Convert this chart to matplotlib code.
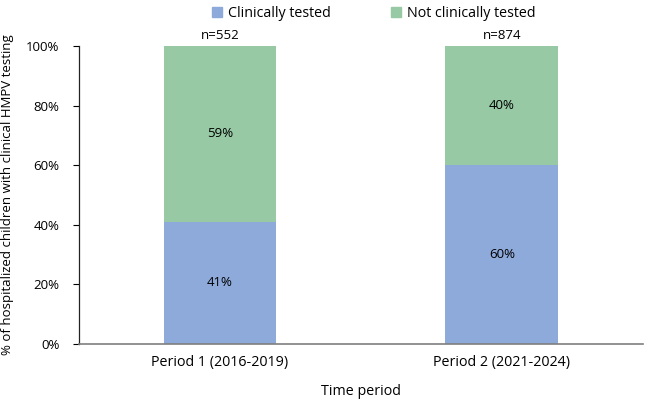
import numpy as np
import matplotlib.pyplot as plt
from matplotlib.patches import Patch

plt.rcParams['font.family'] = ['Open Sans', 'DejaVu Sans']

periods = ["Period 1 (2016-2019)", "Period 2 (2021-2024)"]
tested = [41, 60]
not_tested = [59, 40]
n_labels = ["n=552", "n=874"]
series_names = ["Clinically tested", "Not clinically tested"]

blue = "#8eaadb"
green = "#97c9a4"

fig = plt.figure(figsize=(6.5, 4.07), dpi=100)
ax = fig.add_axes([0.1215, 0.155, 0.8675, 0.732])

x = np.arange(len(periods))
w = 0.4
ax.bar(x, tested, w, color=blue)
ax.bar(x, not_tested, w, bottom=tested, color=green)

for i in range(len(periods)):
    ax.text(x[i], tested[i] / 2, f"{tested[i]}%", ha="center", va="center", fontsize=9.5)
    ax.text(x[i], tested[i] + not_tested[i] / 2, f"{not_tested[i]}%", ha="center", va="center", fontsize=9.5)
    ax.text(x[i], 101.5, n_labels[i], ha="center", va="bottom", fontsize=9.5)

ax.set_xlim(-0.5, 1.5)
ax.set_ylim(0, 100)
ax.set_yticks(np.arange(0, 101, 20))
ax.set_yticklabels([f"{v}%" for v in range(0, 101, 20)], fontsize=9.5)
ax.set_xticks(x)
ax.set_xticklabels(periods, fontsize=10.3)
ax.tick_params(axis="x", length=0, pad=8)
ax.tick_params(axis="y", length=4, width=0.8, pad=10)

ax.spines["top"].set_visible(False)
ax.spines["right"].set_visible(False)
ax.spines["left"].set_color("#222222")
ax.spines["left"].set_linewidth(0.9)
ax.spines["bottom"].set_color("#7f7f7f")
ax.spines["bottom"].set_linewidth(1.2)

ax.set_xlabel("Time period", fontsize=10.3, labelpad=10)
ax.set_ylabel("% of hospitalized children with clinical HMPV testing", fontsize=9.5, labelpad=9)

handles = [Patch(color=blue), Patch(color=green)]
fig.legend(handles, series_names, loc="center", bbox_to_anchor=(0.575, 0.967), ncol=2,
           frameon=False, fontsize=10.3, handlelength=0.7, handleheight=0.7,
           handletextpad=0.4, columnspacing=4.2)

fig.savefig("out.png", dpi=100)
